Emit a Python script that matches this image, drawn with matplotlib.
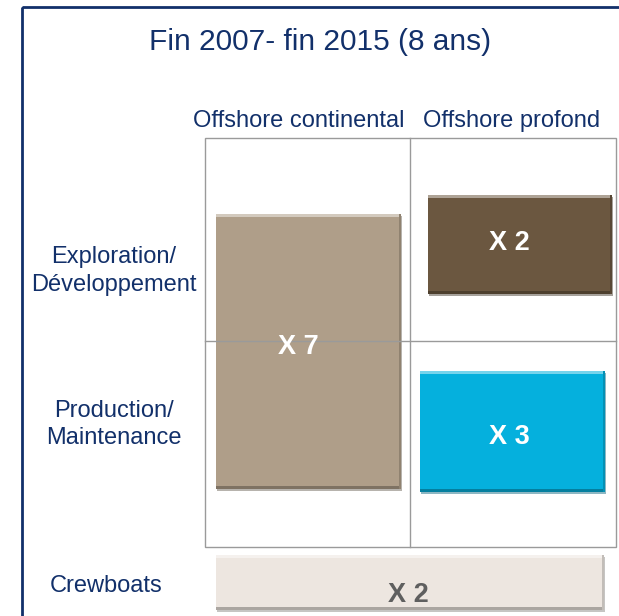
import matplotlib
matplotlib.use("Agg")
import matplotlib.pyplot as plt
from matplotlib.patches import Rectangle

plt.rcParams["font.family"] = ["Liberation Sans", "DejaVu Sans"]

title = "Fin 2007- fin 2015 (8 ans)"
columns = ["Offshore continental", "Offshore profond"]
rows = ["Exploration/\nDéveloppement", "Production/\nMaintenance", "Crewboats"]
multipliers = ["X 7", "X 2", "X 3", "X 2"]
colors = ["#AF9E89", "#6B5740", "#05B0DD", "#EDE6E0"]
text_colors = ["white", "white", "white", "#5F5F5F"]
navy = "#12306A"

fig = plt.figure(figsize=(6.19, 6.16), dpi=100)
ax = fig.add_axes([0, 0, 1, 1])
ax.set_xlim(0, 619); ax.set_ylim(616, 0); ax.axis("off")

# outer frame (runs off the right and bottom edges)
ax.add_patch(Rectangle((22, 7), 620, 640, fill=False, ec=navy, lw=2))
ax.text(320, 50, title, ha="center", va="baseline", fontsize=21.5, color=navy)

# grid
gx0, gx1, gxm = 205, 616, 410
gy0, gy1, gym = 138, 547, 341
ax.add_patch(Rectangle((gx0, gy0), gx1 - gx0, gy1 - gy0, fill=False, ec="#9A9A9A", lw=1))
ax.plot([gxm, gxm], [gy0, gy1], color="#9A9A9A", lw=1)
ax.plot([gx0, gx1], [gym, gym], color="#9A9A9A", lw=1)

for cx, c in zip([299, 512], columns):
    ax.text(cx, 127, c, ha="center", va="baseline", fontsize=17, color=navy)

# row labels, one baseline per line
row_pos = [(114, [263, 291]), (114, [417, 444]), (106, [592])]
for (lx, bases), r in zip(row_pos, rows):
    for line, by in zip(r.split("\n"), bases):
        ax.text(lx, by, line, ha="center", va="baseline", fontsize=17, color=navy)

# boxes: (x, y, w, h) and label centre offsets
boxes = [(216, 214, 185, 275), (428, 195, 184, 99), (420, 371, 185, 121), (216, 555, 388, 55)]
offsets = [(-10, -8), (-11, -4), (-3, 3), (-2, 10)]

def darker(c, f):
    c = matplotlib.colors.to_rgb(c)
    return tuple(max(0, v * f) for v in c)

def lighter(c, f):
    c = matplotlib.colors.to_rgb(c)
    return tuple(min(1, v + (1 - v) * f) for v in c)

for (x, y, w, h), (dx, dy), col, lab, tc in zip(boxes, offsets, colors, multipliers, text_colors):
    ax.add_patch(Rectangle((x + 1, y + 2), w, h, fc=darker(col, 0.55), ec="none", alpha=0.45))
    ax.add_patch(Rectangle((x, y), w, h, fc=col, ec="none"))
    ax.add_patch(Rectangle((x, y), w, 3, fc=lighter(col, 0.45), ec="none"))
    ax.add_patch(Rectangle((x, y + h - 3), w, 3, fc=darker(col, 0.72), ec="none"))
    ax.add_patch(Rectangle((x + w - 2, y), 2, h, fc=darker(col, 0.82), ec="none"))
    ax.text(x + w / 2 + dx, y + h / 2 + dy, lab, ha="center", va="center_baseline",
            fontsize=19.5, fontweight="bold", color=tc)

fig.savefig("out.png", dpi=100)
